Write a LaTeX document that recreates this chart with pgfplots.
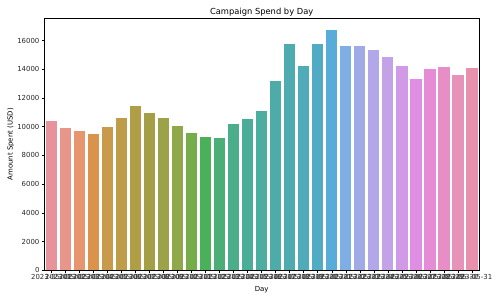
\documentclass[border=0pt]{standalone}
\usepackage{fontspec}
\setmainfont{DejaVu Sans}
\usepackage{pgfplots}
\pgfplotsset{compat=1.18}
\definecolor{c1}{HTML}{E8929C}
\definecolor{c2}{HTML}{E8968A}
\definecolor{c3}{HTML}{E6956F}
\definecolor{c4}{HTML}{DB934C}
\definecolor{c5}{HTML}{C99A4A}
\definecolor{c6}{HTML}{BE9C49}
\definecolor{c7}{HTML}{AF9E45}
\definecolor{c8}{HTML}{A49F47}
\definecolor{c9}{HTML}{9BA249}
\definecolor{c10}{HTML}{8EA84A}
\definecolor{c11}{HTML}{74AD4A}
\definecolor{c12}{HTML}{4AB05A}
\definecolor{c13}{HTML}{4BAE79}
\definecolor{c14}{HTML}{4AAE8A}
\definecolor{c15}{HTML}{4AAD97}
\definecolor{c16}{HTML}{4CADA0}
\definecolor{c17}{HTML}{4DACA7}
\definecolor{c18}{HTML}{4EABAF}
\definecolor{c19}{HTML}{4FABB8}
\definecolor{c20}{HTML}{52ABC4}
\definecolor{c21}{HTML}{58ACDA}
\definecolor{c22}{HTML}{7EAEE4}
\definecolor{c23}{HTML}{9FAAE7}
\definecolor{c24}{HTML}{B2A8E9}
\definecolor{c25}{HTML}{C3A2E8}
\definecolor{c26}{HTML}{D19AE6}
\definecolor{c27}{HTML}{E08EE4}
\definecolor{c28}{HTML}{E68CD6}
\definecolor{c29}{HTML}{E78EC6}
\definecolor{c30}{HTML}{E792B8}
\definecolor{c31}{HTML}{E891AC}
\begin{document}
\begin{tikzpicture}
\begin{axis}[
  at={(0,0)}, anchor=south west,
  scale only axis,
  width=626pt, height=362.9pt,
  xmin=-0.5, xmax=30.5,
  ymin=0, ymax=17560,
  ybar, bar width=0.8, bar shift=0pt,
  axis line style={black, line width=0.8pt},
  tick style={black, line width=0.8pt},
  tick align=outside,
  major tick length=3.5pt,
  xtick pos=bottom, ytick pos=left,
  xtick={0,...,30},
  xticklabels={2023-05-01,2023-05-02,2023-05-03,2023-05-04,2023-05-05,2023-05-06,2023-05-07,2023-05-08,2023-05-09,2023-05-10,2023-05-11,2023-05-12,2023-05-13,2023-05-14,2023-05-15,2023-05-16,2023-05-17,2023-05-18,2023-05-19,2023-05-20,2023-05-21,2023-05-22,2023-05-23,2023-05-24,2023-05-25,2023-05-26,2023-05-27,2023-05-28,2023-05-29,2023-05-30,2023-05-31},
  ytick={0,2000,...,16000},
  /pgf/number format/1000 sep={},
  /pgf/number format/assume math mode=true,
  scaled y ticks=false,
  tick label style={font=\fontsize{10}{12}\selectfont, text=black!85},
  xticklabel style={yshift=0.5pt},
  every axis title shift=0pt,
  title={Campaign Spend by Day},
  title style={font=\fontsize{12}{14}\selectfont, at={(0.5,1)}, anchor=base, inner sep=0pt, yshift=6pt},
  xlabel={Day},
  ylabel={Amount Spent (USD)},
  label style={font=\fontsize{10}{12}\selectfont},
  xlabel style={yshift=-2pt},
  ylabel style={yshift=-2pt},
  every axis plot/.append style={draw=none},
]
\addplot[fill=c1] coordinates {(0,10420)};
\addplot[fill=c2] coordinates {(1,9910)};
\addplot[fill=c3] coordinates {(2,9700)};
\addplot[fill=c4] coordinates {(3,9490)};
\addplot[fill=c5] coordinates {(4,10000)};
\addplot[fill=c6] coordinates {(5,10580)};
\addplot[fill=c7] coordinates {(6,11440)};
\addplot[fill=c8] coordinates {(7,10960)};
\addplot[fill=c9] coordinates {(8,10630)};
\addplot[fill=c10] coordinates {(9,10050)};
\addplot[fill=c11] coordinates {(10,9560)};
\addplot[fill=c12] coordinates {(11,9300)};
\addplot[fill=c13] coordinates {(12,9250)};
\addplot[fill=c14] coordinates {(13,10210)};
\addplot[fill=c15] coordinates {(14,10540)};
\addplot[fill=c16] coordinates {(15,11120)};
\addplot[fill=c17] coordinates {(16,13190)};
\addplot[fill=c18] coordinates {(17,15770)};
\addplot[fill=c19] coordinates {(18,14260)};
\addplot[fill=c20] coordinates {(19,15770)};
\addplot[fill=c21] coordinates {(20,16750)};
\addplot[fill=c22] coordinates {(21,15650)};
\addplot[fill=c23] coordinates {(22,15600)};
\addplot[fill=c24] coordinates {(23,15350)};
\addplot[fill=c25] coordinates {(24,14880)};
\addplot[fill=c26] coordinates {(25,14240)};
\addplot[fill=c27] coordinates {(26,13350)};
\addplot[fill=c28] coordinates {(27,14050)};
\addplot[fill=c29] coordinates {(28,14170)};
\addplot[fill=c30] coordinates {(29,13610)};
\addplot[fill=c31] coordinates {(30,14100)};
\end{axis}
\pgfresetboundingbox
\path (-63.8pt,-42.8pt) rectangle (656.2pt,389.2pt);
\end{tikzpicture}
\end{document}
